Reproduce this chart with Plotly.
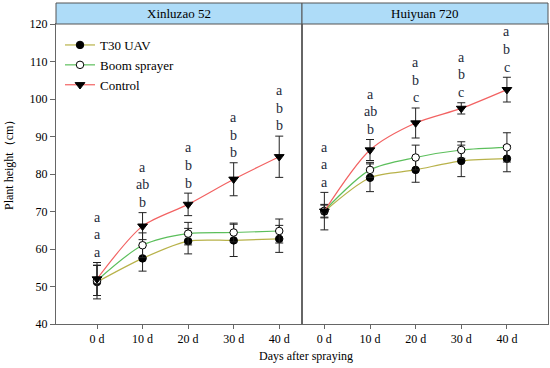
import plotly.graph_objects as go

# ---------------- data ----------------
days = ["0 d", "10 d", "20 d", "30 d", "40 d"]
series_names = ["T30 UAV", "Boom sprayer", "Control"]
panels = ["Xinluzao 52", "Huiyuan 720"]

xin_t30 = [51.2, 57.5, 62.1, 62.3, 62.7]
xin_t30_err = [4.5, 3.4, 3.4, 4.3, 3.6]
xin_boom = [51.6, 61.0, 64.1, 64.4, 64.8]
xin_boom_err = [4.0, 3.3, 3.0, 2.5, 3.2]
xin_ctrl = [52.0, 66.1, 71.9, 78.6, 84.6]
xin_ctrl_err = [4.4, 3.6, 3.0, 4.4, 5.5]

hui_t30 = [70.0, 79.0, 81.1, 83.5, 84.1]
hui_t30_err = [1.7, 3.7, 3.3, 4.2, 3.5]
hui_boom = [70.2, 81.1, 84.4, 86.4, 87.1]
hui_boom_err = [1.7, 2.0, 3.3, 2.2, 3.9]
hui_ctrl = [70.1, 86.4, 93.6, 97.5, 102.5]
hui_ctrl_err = [5.0, 2.8, 4.0, 1.5, 3.3]

xin_letters = [["a", "a", "a"], ["a", "ab", "b"], ["a", "b", "b"], ["a", "b", "b"], ["a", "b", "b"]]
hui_letters = [["a", "a", "a"], ["a", "ab", "b"], ["a", "b", "c"], ["a", "b", "c"], ["a", "b", "c"]]

y_ticks = [40, 50, 60, 70, 80, 90, 100, 110, 120]

# ---------------- styles ----------------
FONT = "Liberation Serif"
line_colors = ["#b8b24a", "#5cbf5c", "#f26262"]
marker_styles = [
    dict(symbol="circle", size=7.5, color="black", line=dict(color="black", width=1)),
    dict(symbol="circle", size=7.5, color="white", line=dict(color="black", width=1)),
    dict(symbol="triangle-down", size=8.5, color="black", line=dict(color="black", width=1)),
]
W, H = 550, 368
px = lambda v: v / W
py = lambda v: 1 - v / H

plot_top, plot_bot = 24, 324
header_top = 3
dom_left = [px(56), px(302)]
dom_right = [px(302), px(548)]
ydom = [py(plot_bot), py(plot_top)]

fig = go.Figure()
xs = list(range(len(days)))

panel_data = [
    ([xin_t30, xin_boom, xin_ctrl], [xin_t30_err, xin_boom_err, xin_ctrl_err], xin_letters, "x", "y"),
    ([hui_t30, hui_boom, hui_ctrl], [hui_t30_err, hui_boom_err, hui_ctrl_err], hui_letters, "x2", "y2"),
]

annotations = []
for pi, (vals, errs, letters, xa, ya) in enumerate(panel_data):
    for si in range(3):
        fig.add_trace(go.Scatter(
            x=xs, y=vals[si], name=series_names[si],
            mode="lines+markers",
            line=dict(color=line_colors[si], width=1.2, shape="spline", smoothing=0.8),
            marker=marker_styles[si],
            error_y=dict(type="data", array=errs[si], visible=True, color="#222",
                         thickness=1, width=4),
            xaxis=xa, yaxis=ya, showlegend=(pi == 0),
        ))
    for xi in xs:
        top = max(vals[s][xi] + errs[s][xi] for s in range(3))
        for k, letter in enumerate(letters[xi]):
            yv = top + 2.7 + (len(letters[xi]) - 1 - k) * 4.7
            annotations.append(dict(x=xi, y=yv, xref=xa, yref=ya, text=letter,
                                    showarrow=False, xanchor="center", yanchor="middle",
                                    font=dict(family=FONT, size=14, color="#1c2a3a")))

shapes = []
for dom, title in zip([dom_left, dom_right], panels):
    shapes.append(dict(type="rect", xref="paper", yref="paper",
                       x0=dom[0], x1=dom[1], y0=py(plot_top), y1=py(header_top),
                       fillcolor="#aedcf8", line=dict(color="#555", width=1), layer="above"))
    annotations.append(dict(x=(dom[0] + dom[1]) / 2, y=(py(plot_top) + py(header_top)) / 2,
                            xref="paper", yref="paper", text=title, showarrow=False,
                            xanchor="center", yanchor="middle",
                            font=dict(family=FONT, size=13, color="black")))

annotations.append(dict(x=px(9), y=py(162), xref="paper", yref="paper",
                        text="Plant height（cm）", textangle=-90, showarrow=False,
                        xanchor="center", yanchor="middle",
                        font=dict(family=FONT, size=12, color="black")))
annotations.append(dict(x=px(306), y=py(356), xref="paper", yref="paper",
                        text="Days after spraying", showarrow=False,
                        xanchor="center", yanchor="middle",
                        font=dict(family=FONT, size=12, color="black")))

axis_common = dict(showgrid=False, zeroline=False, showline=True, linecolor="#666",
                   linewidth=1, mirror=True)
fig.update_layout(
    width=W, height=H, margin=dict(l=0, r=0, t=0, b=0, autoexpand=False),
    paper_bgcolor="white", plot_bgcolor="white",
    font=dict(family=FONT, size=12, color="black"),
    xaxis=dict(domain=dom_left, range=[-0.9, 4.5], tickvals=xs, ticktext=days,
               ticks="outside", ticklen=4, tickcolor="#666", **axis_common),
    xaxis2=dict(domain=dom_right, range=[-0.49, 4.9], tickvals=xs, ticktext=days,
                ticks="outside", ticklen=4, tickcolor="#666", **axis_common),
    yaxis=dict(domain=ydom, range=[40, 120], tickvals=y_ticks, ticks="outside",
               ticklen=5, tickcolor="#666", anchor="x", **axis_common),
    yaxis2=dict(domain=ydom, range=[40, 120], showticklabels=False, anchor="x2",
                **axis_common),
    legend=dict(x=px(60), y=py(30), xanchor="left", yanchor="top",
                bgcolor="rgba(0,0,0,0)", font=dict(family=FONT, size=13),
                tracegroupgap=0, itemwidth=30),
    showlegend=True,
    shapes=shapes, annotations=annotations,
)

fig.write_html("out.html", config={"displayModeBar": False},
               post_script="document.body.style.margin='0';document.body.style.overflow='hidden';")
